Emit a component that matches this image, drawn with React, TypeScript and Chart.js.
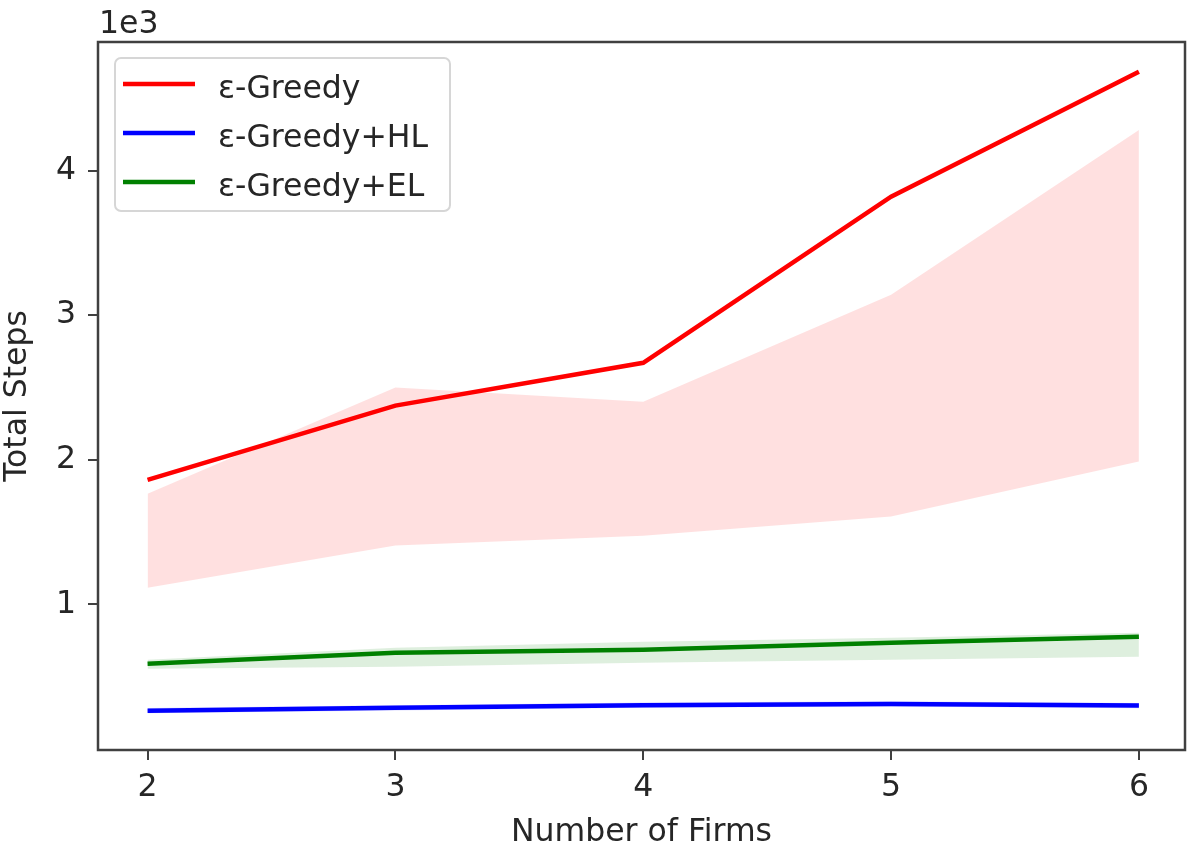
import React, { useEffect, useRef } from "react";
import { Chart, registerables } from "chart.js";

Chart.register(...registerables);

// ---- data ----
const firms = [2, 3, 4, 5, 6];
const seriesLabels = ["ε-Greedy", "ε-Greedy+HL", "ε-Greedy+EL"];

const greedyMean = [1862, 2375, 2671, 3820, 4684];
const greedyUpper = [1765, 2500, 2401, 3141, 4281];
const greedyLower = [1115, 1408, 1475, 1608, 1988];

const hlMean = [265, 285, 303, 312, 300];
const hlUpper = [283, 303, 321, 330, 318];
const hlLower = [247, 267, 285, 294, 282];

const elMean = [590, 666, 687, 735, 777];
const elUpper = [617, 700, 742, 770, 804];
const elLower = [555, 569, 597, 617, 638];

const xTickValues = [2, 3, 4, 5, 6];
const yTickValues = [1000, 2000, 3000, 4000];
const yScaleExp = "1e3";
const xTitle = "Number of Firms";
const yTitle = "Total Steps";

const lineColors = ["#ff0000", "#0000ff", "#008000"];
const bandColors = ["rgba(255,0,0,0.12)", "rgba(0,0,255,0.14)", "rgba(0,128,0,0.13)"];

const FONT = "DejaVu Sans";
const FS = 31.5;
const TEXT = "#262626";
const SPINE = "#404040";

const pts = (ys: number[]) => firms.map((x, i) => ({ x, y: ys[i] }));

const spinesPlugin = {
  id: "spines",
  afterDatasetsDraw(chart: any) {
    const { ctx, chartArea: a } = chart;
    ctx.save();
    ctx.strokeStyle = SPINE;
    ctx.lineWidth = 2.5;
    ctx.strokeRect(a.left, a.top, a.right - a.left, a.bottom - a.top);
    ctx.restore();
  },
};

const extrasPlugin = {
  id: "extras",
  afterDraw(chart: any) {
    const { ctx, chartArea: a } = chart;
    ctx.save();
    // offset label
    ctx.font = `${FS}px "${FONT}"`;
    ctx.fillStyle = TEXT;
    ctx.textBaseline = "alphabetic";
    ctx.textAlign = "left";
    ctx.fillText(yScaleExp, a.left + 1, a.top - 9);

    // legend
    const bx = a.left + 17, by = a.top + 16, bw = 335, bh = 153, r = 6;
    ctx.beginPath();
    ctx.moveTo(bx + r, by);
    ctx.arcTo(bx + bw, by, bx + bw, by + bh, r);
    ctx.arcTo(bx + bw, by + bh, bx, by + bh, r);
    ctx.arcTo(bx, by + bh, bx, by, r);
    ctx.arcTo(bx, by, bx + bw, by, r);
    ctx.closePath();
    ctx.fillStyle = "rgba(255,255,255,0.85)";
    ctx.fill();
    ctx.strokeStyle = "#d6d6d6";
    ctx.lineWidth = 2;
    ctx.stroke();

    const lines = chart.data.datasets.filter((d: any) => d.isMain);
    lines.forEach((d: any, i: number) => {
      const y = by + 26 + i * 49;
      ctx.beginPath();
      ctx.moveTo(bx + 8, y);
      ctx.lineTo(bx + 80, y);
      ctx.strokeStyle = d.borderColor;
      ctx.lineWidth = 4.5;
      ctx.stroke();
      ctx.fillStyle = TEXT;
      ctx.font = `${FS}px "${FONT}"`;
      ctx.fillText(d.label, bx + 103, y + 14);
    });
    ctx.restore();
  },
};

export default function App() {
  const ref = useRef<HTMLCanvasElement | null>(null);

  useEffect(() => {
    if (!ref.current) return;
    const means = [greedyMean, hlMean, elMean];
    const uppers = [greedyUpper, hlUpper, elUpper];
    const lowers = [greedyLower, hlLower, elLower];
    const datasets: any[] = [];
    for (let s = 0; s < 3; s++) {
      datasets.push({
        label: seriesLabels[s],
        isMain: true,
        data: pts(means[s]),
        borderColor: lineColors[s],
        backgroundColor: lineColors[s],
        borderWidth: 4.5,
        pointRadius: 0,
        fill: false,
        order: 0,
      });
    }
    for (let s = 0; s < 3; s++) {
      datasets.push({
        label: seriesLabels[s] + " upper",
        data: pts(uppers[s]),
        borderWidth: 0,
        borderColor: "rgba(0,0,0,0)",
        backgroundColor: bandColors[s],
        pointRadius: 0,
        fill: "+1",
        order: 1,
      });
      datasets.push({
        label: seriesLabels[s] + " lower",
        data: pts(lowers[s]),
        borderWidth: 0,
        borderColor: "rgba(0,0,0,0)",
        backgroundColor: bandColors[s],
        pointRadius: 0,
        fill: false,
        order: 1,
      });
    }

    const chart = new Chart(ref.current, {
      type: "line",
      data: { datasets },
      plugins: [spinesPlugin, extrasPlugin],
      options: {
        animation: false,
        responsive: true,
        maintainAspectRatio: false,
        layout: { padding: { left: 0, top: 42, right: 11, bottom: 0 } },
        plugins: {
          legend: { display: false },
          tooltip: { enabled: false },
        },
        scales: {
          x: {
            type: "linear",
            min: 1.8,
            max: 6.186,
            afterBuildTicks: (scale: any) => {
              scale.ticks = xTickValues.map((v) => ({ value: v }));
            },
            afterFit: (scale: any) => {
              scale.height = 107;
            },
            grid: {
              display: true,
              drawOnChartArea: false,
              drawTicks: true,
              tickLength: 10,
              color: SPINE,
              lineWidth: 2,
            },
            border: { display: false },
            ticks: {
              color: TEXT,
              font: { family: FONT, size: FS },
              padding: 9,
              maxRotation: 0,
              callback: (v: any) => String(v),
            },
            title: {
              display: true,
              text: xTitle,
              color: TEXT,
              font: { family: FONT, size: FS },
              padding: { top: 0, bottom: 5 },
            },
          },
          y: {
            type: "linear",
            min: -7,
            max: 4890,
            afterBuildTicks: (scale: any) => {
              scale.ticks = yTickValues.map((v) => ({ value: v }));
            },
            afterFit: (scale: any) => {
              scale.width = 98;
            },
            grid: {
              display: true,
              drawOnChartArea: false,
              drawTicks: true,
              tickLength: 10,
              color: SPINE,
              lineWidth: 2,
            },
            border: { display: false },
            ticks: {
              color: TEXT,
              font: { family: FONT, size: FS },
              padding: 12,
              callback: (v: any) => String(Number(v) / 1000),
            },
            title: {
              display: true,
              text: yTitle,
              color: TEXT,
              font: { family: FONT, size: FS, lineHeight: 1.1 },
              padding: { top: 0, bottom: 0 },
            },
          },
        },
      } as any,
    });
    return () => chart.destroy();
  }, []);

  return (
    <div style={{ position: "fixed", left: 0, top: 0, width: 1196, height: 857, background: "#fff" }}>
      <canvas ref={ref} />
    </div>
  );
}
